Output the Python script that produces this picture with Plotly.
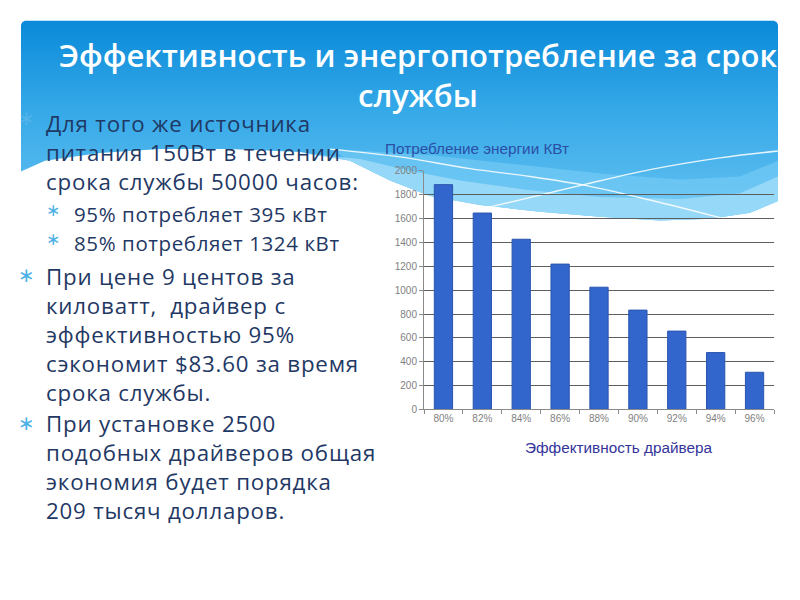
import plotly.graph_objects as go

# ---------------- data ----------------
categories = ["80%", "82%", "84%", "86%", "88%", "90%", "92%", "94%", "96%"]
energy_kwt = [1885, 1647, 1427, 1219, 1025, 833, 657, 477, 312]

chart_title = "Потребление энергии КВт"
x_title = "Эффективность драйвера"
slide_title = ["Эффективность и энергопотребление за срок", "службы"]

para1 = ["Для того же источника", "питания 150Вт в течении", "срока службы 50000 часов:"]
sub_bullets = ["95% потребляет 395 кВт", "85% потребляет 1324 кВт"]
para2 = ["При цене 9 центов за", "киловатт,  драйвер с", "эффективностью 95%",
         "сэкономит $83.60 за время", "срока службы."]
para3 = ["При установке 2500", "подобных драйверов общая", "экономия будет порядка",
         "209 тысяч долларов."]

W, H = 800, 600
fig = go.Figure()

# ---------------- slide background (decoration, pixel coords on hidden axes) ----------------
TOP = 15
B1 = [(21, 169), (45, 158), (100, 150), (160, 146), (230, 146), (300, 149), (350, 158),
      (390, 178), (430, 194), (480, 203), (540, 210), (600, 215), (660, 219), (710, 217),
      (750, 211), (778, 199)]
top = [(778, TOP + 4.5), (776.8, TOP + 1.5), (774, TOP), (25, TOP), (22.2, TOP + 1.5), (21, TOP + 4.5)]
blue_poly = B1 + top + [B1[0]]
fig.add_trace(go.Scatter(
    x=[p[0] for p in blue_poly], y=[p[1] for p in blue_poly],
    xaxis="x", yaxis="y", mode="lines", line=dict(width=0), fill="toself",
    fillgradient=dict(type="vertical", colorscale=[[0, "#0a8ad9"], [0.45, "#36a9e8"], [1, "#66c2f1"]],
                      start=TOP, stop=215),
    hoverinfo="skip", showlegend=False))

B3 = [(330, 146), (430, 152), (520, 162), (600, 171), (680, 177), (740, 174), (778, 158)]
mid_poly = B3 + list(reversed([p for p in B1 if p[0] >= 350])) + [B3[0]]
fig.add_trace(go.Scatter(
    x=[p[0] for p in mid_poly], y=[p[1] for p in mid_poly], xaxis="x", yaxis="y",
    mode="lines", line=dict(width=0), fill="toself", fillcolor="rgba(120,205,246,0.6)",
    hoverinfo="skip", showlegend=False))

B2 = [(300, 150), (360, 156), (410, 168), (460, 178), (530, 188), (600, 195), (680, 197),
      (740, 191), (778, 174)]
light_poly = B2 + list(reversed([p for p in B1 if p[0] > 300])) + [B2[0]]
fig.add_trace(go.Scatter(
    x=[p[0] for p in light_poly], y=[p[1] for p in light_poly], xaxis="x", yaxis="y",
    mode="lines", line=dict(width=0), fill="toself", fillcolor="rgba(160,220,249,0.8)",
    hoverinfo="skip", showlegend=False))

L1 = [(330, 146), (400, 154), (470, 166), (530, 174), (585, 183), (650, 198), (720, 216)]
L2 = [(490, 205), (540, 193), (585, 182), (650, 167), (720, 155), (778, 148)]
for L in (L1, L2):
    fig.add_trace(go.Scatter(
        x=[p[0] for p in L], y=[p[1] for p in L], xaxis="x", yaxis="y", mode="lines",
        line=dict(color="rgba(255,255,255,0.85)", width=1.4, shape="spline"),
        hoverinfo="skip", showlegend=False))

# ---------------- bar chart ----------------
fig.add_trace(go.Bar(
    x=categories, y=energy_kwt, xaxis="x2", yaxis="y2",
    marker=dict(color="#3366cc", line=dict(color="#2a55ad", width=1)),
    hoverinfo="skip", showlegend=False))

x0, x1 = 424, 774
y0, y1 = 411.7, 168.3

fig.update_layout(
    width=W, height=H,
    margin=dict(l=0, r=0, t=0, b=0),
    paper_bgcolor="white",
    plot_bgcolor="rgba(0,0,0,0)",
    bargap=0.53,
    xaxis=dict(domain=[0, 1], range=[0, W], visible=False, fixedrange=True),
    yaxis=dict(domain=[0, 1], range=[H, 0], visible=False, fixedrange=True),
    xaxis2=dict(domain=[x0 / W, x1 / W], anchor="y2", type="category",
                showgrid=False, showline=True, linecolor="#8a8a8a", linewidth=1,
                ticks="outside", tickson="boundaries", ticklen=4, tickcolor="#8a8a8a",
                tickfont=dict(family="Liberation Sans, Arial", size=10, color="#7f7f7f")),
    yaxis2=dict(domain=[1 - y0 / H, 1 - y1 / H], anchor="x2", range=[0, 2000], dtick=200,
                showgrid=True, gridcolor="#5e5e5e", gridwidth=1, zeroline=False,
                showline=True, linecolor="#8a8a8a", linewidth=1,
                ticks="outside", ticklen=4, tickcolor="#8a8a8a",
                tickfont=dict(family="Liberation Sans, Arial", size=10, color="#7f7f7f")),
)

ann = []
def px(x): return x / W
def py(y): return 1 - y / H

# slide title (two lines)
for t, y in zip(slide_title, [50, 91]):
    ann.append(dict(text=t, x=px(418), y=py(y), xref="paper", yref="paper",
                    xanchor="center", yanchor="middle", showarrow=False,
                    font=dict(family="Open Sans", size=31, color="white", weight=600)))

# chart titles
ann.append(dict(text=chart_title, x=px(383), y=py(145), xref="paper", yref="paper",
                xanchor="left", yanchor="middle", showarrow=False,
                font=dict(family="Liberation Sans, Arial", size=15.3, color="#2b4fa6")))
ann.append(dict(text=x_title, x=px(618), y=py(451), xref="paper", yref="paper",
                xanchor="center", yanchor="middle", showarrow=False,
                font=dict(family="Liberation Sans, Arial", size=15.3, color="#33339a")))

text_color = "#1f3864"
body_size = 22.3  # 1.3em line spacing -> ~29 px, as in the reference
bullet_color = "#4cb1e6"

def spaced(t, ls):
    return '<span style="letter-spacing:%.2fpx">%s</span>' % (ls, t)

def paragraph(lines, x, y_first):
    n = len(lines)
    step = 1.3 * body_size
    centre = y_first + (n - 1) * step / 2 - 3
    ann.append(dict(text="<br>".join(spaced(t, 0.8) for t in lines), x=px(x), y=py(centre),
                    xref="paper", yref="paper",
                    xanchor="left", yanchor="middle", align="left", showarrow=False,
                    font=dict(family="Open Sans", size=body_size, color=text_color)))

def bullet(x, y, size, color=bullet_color):
    ann.append(dict(text="∗", x=px(x), y=py(y), xref="paper", yref="paper",
                    xanchor="center", yanchor="middle", showarrow=False,
                    font=dict(family="DejaVu Sans", size=size, color=color)))

bullet(26, 114, 20, color="#52b4ea")
paragraph(para1, 44, 124)

sub_y = [215, 245]
for t, y in zip(sub_bullets, sub_y):
    bullet(53, y - 7, 17)
    ann.append(dict(text=spaced(t, 0.6), x=px(72), y=py(y - 3), xref="paper", yref="paper",
                    xanchor="left", yanchor="middle", showarrow=False,
                    font=dict(family="Open Sans", size=20.5, color=text_color)))

bullet(26, 275, 20)
paragraph(para2, 44, 280)

bullet(26, 425, 20)
paragraph(para3, 44, 430)

fig.update_layout(annotations=ann)
fig.write_html("out.html", config={"displayModeBar": False},
               post_script="document.body.style.margin='0px';document.body.style.padding='0px';")
